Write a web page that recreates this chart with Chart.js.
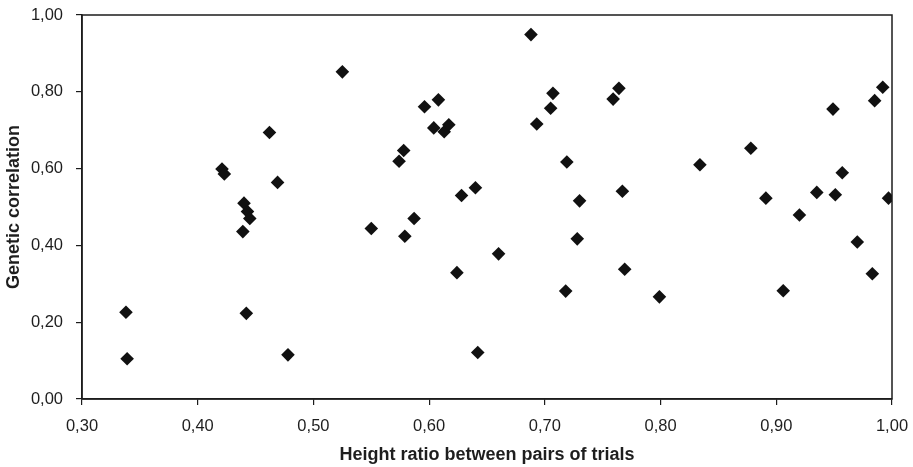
<!DOCTYPE html>
<html>
<head>
<meta charset="utf-8">
<script src="https://cdn.jsdelivr.net/npm/chart.js@4"></script>
<style>
    html, body { margin: 0; padding: 0; background: #fff; }
    #wrap { width: 913px; height: 467px; }
</style>
</head>
<body>
<div id="wrap"><canvas id="scatterChart" width="913" height="467"></canvas></div>
<script>
// height ratio between pairs of trials (x)
const heightRatio = [
    0.338, 0.339, 0.525, 0.462, 0.421, 0.423, 0.469, 0.440, 0.443, 0.445,
    0.439, 0.442, 0.478, 0.550, 0.688, 0.596, 0.608, 0.604, 0.613, 0.617,
    0.578, 0.574, 0.628, 0.640, 0.587, 0.579, 0.624, 0.660, 0.642, 0.707,
    0.705, 0.693, 0.759, 0.764, 0.719, 0.730, 0.767, 0.728, 0.769, 0.718,
    0.799, 0.834, 0.878, 0.891, 0.920, 0.906, 0.935, 0.949, 0.951, 0.957,
    0.970, 0.983, 0.985, 0.992, 0.997
];

// genetic correlation (y)
const geneticCorr = [
    0.226, 0.105, 0.852, 0.694, 0.599, 0.586, 0.564, 0.510, 0.488, 0.470,
    0.436, 0.223, 0.115, 0.444, 0.949, 0.761, 0.779, 0.706, 0.696, 0.714,
    0.647, 0.619, 0.530, 0.550, 0.470, 0.424, 0.329, 0.378, 0.121, 0.796,
    0.757, 0.716, 0.781, 0.809, 0.617, 0.516, 0.541, 0.417, 0.338, 0.281,
    0.266, 0.610, 0.653, 0.523, 0.479, 0.282, 0.538, 0.755, 0.532, 0.589,
    0.409, 0.326, 0.777, 0.812, 0.523
];

const xTitle = "Height ratio between pairs of trials";
const yTitle = "Genetic correlation";

let points = heightRatio.map((x, i) => ({ x: x, y: geneticCorr[i] }));

// comma decimals, like the original
function fmt(v) {
    return v.toFixed(2).replace(".", ",");
}

// scales should not push the plot area in, layout padding decides it
function noEdgePadding(scale) {
    scale.paddingTop = 0;
    scale.paddingBottom = 0;
    scale.paddingLeft = 0;
    scale.paddingRight = 0;
}

// box around the plot area (top + right sides)
const frameBox = {
    id: "frameBox",
    afterDatasetsDraw(chart) {
        let a = chart.chartArea;
        let c = chart.ctx;
        c.save();
        c.strokeStyle = "#1c1c1c";
        c.lineWidth = 1.5;
        c.strokeRect(a.left, a.top, a.right - a.left, a.bottom - a.top);
        c.restore();
    }
};

const textColor = "#1e1e1e";

new Chart(document.getElementById("scatterChart"), {
    type: "scatter",
    data: {
        datasets: [{
            data: points,
            pointStyle: "rectRot",
            pointRadius: 6.8,
            pointHoverRadius: 6.8,
            backgroundColor: "#111",
            borderColor: "#111",
            borderWidth: 0
        }]
    },
    options: {
        responsive: false,
        animation: false,
        layout: {
            padding: { top: 15, right: 21, left: 0, bottom: 0 }
        },
        plugins: {
            legend: { display: false },
            tooltip: { enabled: false }
        },
        scales: {
            x: {
                type: "linear",
                min: 0.3,
                max: 1.0,
                afterFit(scale) {
                    scale.height = 68;
                    noEdgePadding(scale);
                },
                ticks: {
                    stepSize: 0.1,
                    padding: 12,
                    color: textColor,
                    font: { family: "Liberation Sans", size: 16.5 },
                    callback: (v) => fmt(v)
                },
                grid: {
                    drawOnChartArea: false,
                    tickLength: 6,
                    color: "#1c1c1c",
                    lineWidth: 1.2
                },
                border: { color: "#1c1c1c", width: 1.5 },
                title: {
                    display: true,
                    text: xTitle,
                    color: textColor,
                    padding: { top: 0, bottom: 1 },
                    font: { family: "Liberation Sans", size: 18, weight: "bold" }
                }
            },
            y: {
                min: 0,
                max: 1.0,
                afterFit(scale) {
                    scale.width = 82;
                    noEdgePadding(scale);
                },
                ticks: {
                    stepSize: 0.2,
                    padding: 13,
                    color: textColor,
                    font: { family: "Liberation Sans", size: 16.5 },
                    callback: (v) => fmt(v)
                },
                grid: {
                    drawOnChartArea: false,
                    tickLength: 6,
                    color: "#1c1c1c",
                    lineWidth: 1.2
                },
                border: { color: "#1c1c1c", width: 1.5 },
                title: {
                    display: true,
                    text: yTitle,
                    color: textColor,
                    padding: { top: 3, bottom: 0 },
                    font: { family: "Liberation Sans", size: 18, weight: "bold" }
                }
            }
        }
    },
    plugins: [frameBox]
});
</script>
</body>
</html>
